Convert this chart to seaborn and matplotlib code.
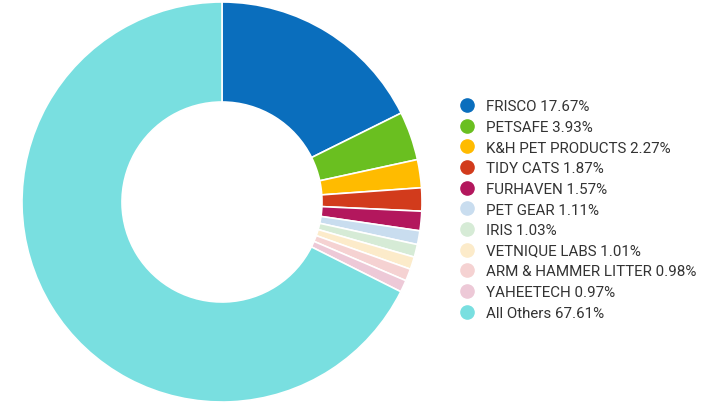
import matplotlib
matplotlib.use("Agg")
import matplotlib.pyplot as plt
import seaborn as sns
from matplotlib.lines import Line2D

brands = ["FRISCO", "PETSAFE", "K&H PET PRODUCTS", "TIDY CATS", "FURHAVEN",
          "PET GEAR", "IRIS", "VETNIQUE LABS", "ARM & HAMMER LITTER",
          "YAHEETECH", "All Others"]
shares = [17.67, 3.93, 2.27, 1.87, 1.57, 1.11, 1.03, 1.01, 0.98, 0.97, 67.61]
colors = ["#0a6ebd", "#6abf20", "#ffbb00", "#d23b1c", "#b3175d",
          "#c9ddef", "#d6ebd6", "#fcebca", "#f5d2d2", "#edc9d7", "#79dfe0"]

sns.set_style("white")
plt.rcParams['font.family'] = ['Roboto', 'DejaVu Sans']

fig = plt.figure(figsize=(7.10, 4.06), dpi=100)
ax = fig.add_axes([21 / 710, 3 / 406, 402 / 710, 400 / 406])
ax.pie(shares, colors=colors, startangle=90, counterclock=False, radius=1.0,
       wedgeprops=dict(width=0.5, edgecolor="white", linewidth=1.2))
ax.set_xlim(-1, 1)
ax.set_ylim(-1, 1)
ax.set_aspect("equal")
ax.axis("off")

handles = [Line2D([0], [0], marker="o", linestyle="", markersize=9.5,
                  markerfacecolor=c, markeredgecolor=c) for c in colors]
labels = [f"{b} {s:.2f}%" for b, s in zip(brands, shares)]
fig.legend(handles, labels, loc="upper left",
           bbox_to_anchor=(459.5 / 710, (406 - 100.2) / 406),
           frameon=False, fontsize=10.9, handlelength=1.0, handletextpad=0.76,
           labelspacing=0.44, borderpad=0, borderaxespad=0,
           labelcolor="#333333")

fig.savefig("out.png", dpi=100)
